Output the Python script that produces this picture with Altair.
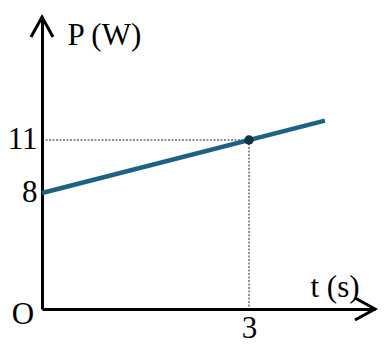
import altair as alt
import pandas as pd

# Data
t_line = [0, 4.1]
p_line = [8, 12.1]
t_point = [3]
p_point = [11]
y_ticks = [8, 11]
x_ticks = [3]

# scale domains (diagram is not to scale at the origin)
X_MIN, X_MAX = 0, 4.826
Y_MIN, Y_MAX = 1.434, 17.962

FONT = "Liberation Serif"

line_df = pd.DataFrame({"t": t_line, "P": p_line})
pt_df = pd.DataFrame({"t": t_point, "P": p_point})
guide_df = pd.DataFrame({
    "t": [X_MIN, t_point[0]],
    "t2": [t_point[0], t_point[0]],
    "P": [p_point[0], p_point[0]],
    "P2": [p_point[0], Y_MIN],
})
up_df = pd.DataFrame({"t": [X_MIN], "P": [Y_MAX]})
right_df = pd.DataFrame({"t": [X_MAX], "P": [Y_MIN]})
origin_df = pd.DataFrame({"t": [X_MIN], "P": [Y_MIN], "lab": ["O"]})

xs = alt.Scale(domain=[X_MIN, X_MAX], nice=False, zero=False)
ys = alt.Scale(domain=[Y_MIN, Y_MAX], nice=False, zero=False)

x_axis = alt.Axis(
    values=x_ticks, format="d", ticks=False, grid=False, domainColor="black", domainWidth=3,
    labelFont=FONT, labelFontSize=31, labelColor="black", labelPadding=4,
    title="t (s)", titleFont=FONT, titleFontSize=31, titleFontWeight="normal",
    titleColor="black", titleX=268, titleY=-22, titleAlign="left",
    titleBaseline="middle", titleAngle=0,
)
y_axis = alt.Axis(
    values=y_ticks, format="d", ticks=False, grid=False, domainColor="black", domainWidth=3,
    labelFont=FONT, labelFontSize=31, labelColor="black", labelPadding=5,
    title="P (W)", titleFont=FONT, titleFontSize=31, titleFontWeight="normal",
    titleColor="black", titleX=25, titleY=18, titleAlign="left",
    titleBaseline="middle", titleAngle=0,
)

guides = alt.Chart(guide_df).mark_rule(
    color="#222222", strokeWidth=1, strokeDash=[2, 1.5]
).encode(
    x=alt.X("t:Q", scale=xs, axis=x_axis),
    x2="t2:Q",
    y=alt.Y("P:Q", scale=ys, axis=y_axis),
    y2="P2:Q",
)

line = alt.Chart(line_df).mark_line(color="#1d6283", strokeWidth=4.5).encode(
    x=alt.X("t:Q", scale=xs), y=alt.Y("P:Q", scale=ys)
)

point = alt.Chart(pt_df).mark_point(
    filled=True, color="#0f3347", size=90, opacity=1
).encode(x=alt.X("t:Q", scale=xs), y=alt.Y("P:Q", scale=ys))

up_arrow = alt.Chart(up_df).mark_point(
    shape="M-0.55,1L0,0L0.55,1", size=1600, filled=False,
    stroke="black", strokeWidth=3, opacity=1
).encode(x=alt.X("t:Q", scale=xs), y=alt.Y("P:Q", scale=ys))

right_arrow = alt.Chart(right_df).mark_point(
    shape="M-1,-0.55L0,0L-1,0.55", size=1600, filled=False,
    stroke="black", strokeWidth=3, opacity=1
).encode(x=alt.X("t:Q", scale=xs), y=alt.Y("P:Q", scale=ys))

origin = alt.Chart(origin_df).mark_text(
    font=FONT, fontSize=31, color="black", dx=-19, dy=6,
    align="center", baseline="middle"
).encode(x=alt.X("t:Q", scale=xs), y=alt.Y("P:Q", scale=ys), text="lab:N")

chart = alt.layer(guides, line, point, up_arrow, right_arrow, origin).properties(
    width=333, height=292,
    autosize=alt.AutoSizeParams(type="none"),
    padding={"left": 42, "top": 17, "right": 13, "bottom": 39},
    background="white",
).configure_view(stroke=None)

chart.save("out.html", embed_options={"renderer": "svg", "actions": False})
